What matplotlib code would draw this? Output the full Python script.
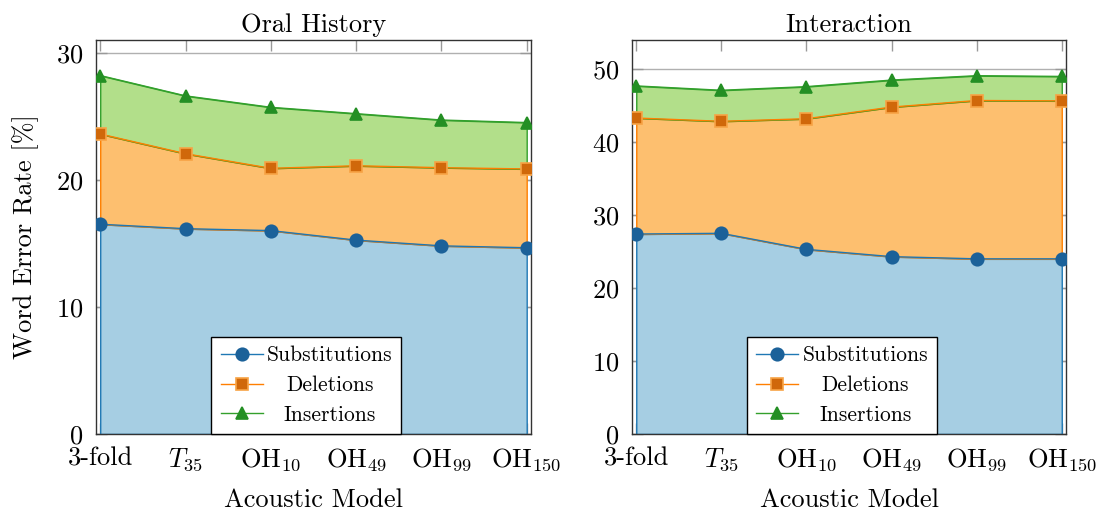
import numpy as np
import matplotlib
matplotlib.use("Agg")
import matplotlib.pyplot as plt

plt.rcParams['font.family'] = 'cmr10'
plt.rcParams['mathtext.fontset'] = 'cm'
plt.rcParams['axes.formatter.use_mathtext'] = True
plt.rcParams['axes.unicode_minus'] = False

models = ['3-fold', '$T_{35}$', 'OH$_{10}$', 'OH$_{49}$', 'OH$_{99}$', 'OH$_{150}$']
series = ['Substitutions', 'Deletions', 'Insertions']

# word error rate parts per acoustic model
oh_sub = [16.5, 16.15, 16.0, 15.25, 14.8, 14.65]
oh_del = [7.1, 5.9, 4.9, 5.85, 6.15, 6.2]
oh_ins = [4.6, 4.55, 4.8, 4.1, 3.75, 3.65]

int_sub = [27.4, 27.5, 25.3, 24.3, 24.0, 24.0]
int_del = [15.9, 15.35, 17.9, 20.5, 21.7, 21.65]
int_ins = [4.4, 4.25, 4.4, 3.7, 3.4, 3.35]

fill_cols = ['#a6cee3', '#fdbf6f', '#b2df8a']
line_cols = ['#1f78b4', '#ff7f00', '#33a02c']
mark_face = ['#1b6199', '#d0680a', '#248f24']
mark_edge = ['#1b6199', '#f7a345', '#248f24']
markers = ['o', 's', '^']
msizes = [9, 8, 8]


def stacked(ax, parts, title, ylim, yticks):
    x = np.arange(len(models))
    lower = np.zeros(len(models))
    for i, p in enumerate(parts):
        upper = lower + np.array(p)
        ax.fill_between(x, lower, upper, facecolor=fill_cols[i],
                        edgecolor=line_cols[i], linewidth=1.0, zorder=1)
        ax.plot(x, upper, color=line_cols[i], lw=1.0, marker=markers[i],
                ms=msizes[i], mfc=mark_face[i], mec=mark_edge[i], mew=1.2,
                label=series[i], zorder=3)
        lower = upper
    ax.set_xlim(-0.05, len(models) - 1 + 0.05)
    ax.set_ylim(*ylim)
    ax.set_yticks(yticks)
    ax.set_xticks(x)
    ax.set_xticklabels(models)
    ax.set_axisbelow(True)
    ax.grid(True, axis='y', color='#b0b0b0', lw=1.0)
    ax.tick_params(direction='in', length=8, width=1, color='#999999',
                   top=True, right=True, labelsize=19)
    ax.tick_params(axis='y', pad=9)
    ax.tick_params(axis='x', pad=9)
    for s in ax.spines.values():
        s.set_color('#333333')
        s.set_linewidth(1.0)
    ax.set_title(title, fontsize=19, pad=6)
    ax.set_xlabel('Acoustic Model', fontsize=19, labelpad=11)
    leg = ax.legend(loc='lower center', bbox_to_anchor=(0.484, 0.0),
                    borderaxespad=0, fontsize=15.5, fancybox=False,
                    edgecolor='black', framealpha=1, handlelength=1.95,
                    handletextpad=0.2, labelspacing=0.48, borderpad=0.42)
    leg.get_frame().set_linewidth(1.0)
    leg.set_zorder(5)
    return leg


fig = plt.figure(figsize=(11.08, 5.16), dpi=100)
ax1 = fig.add_axes([0.0866, 0.159, 0.3926, 0.7636])
ax2 = fig.add_axes([0.5704, 0.159, 0.3917, 0.7636])

leg1 = stacked(ax1, [oh_sub, oh_del, oh_ins], 'Oral History', (0, 31), [0, 10, 20, 30])
leg2 = stacked(ax2, [int_sub, int_del, int_ins], 'Interaction', (0, 54), [0, 10, 20, 30, 40, 50])
ax1.set_ylabel('Word Error Rate [%]', fontsize=19, labelpad=12)

# centre the legend entries in their column
fig.canvas.draw()
r = fig.canvas.get_renderer()
for leg in (leg1, leg2):
    texts = leg.get_texts()
    ws = [t.get_window_extent(r).width for t in texts]
    for t, w in zip(texts, ws):
        t.set_position(((max(ws) - w) / 2, 0))

fig.savefig('out.png', dpi=100)
